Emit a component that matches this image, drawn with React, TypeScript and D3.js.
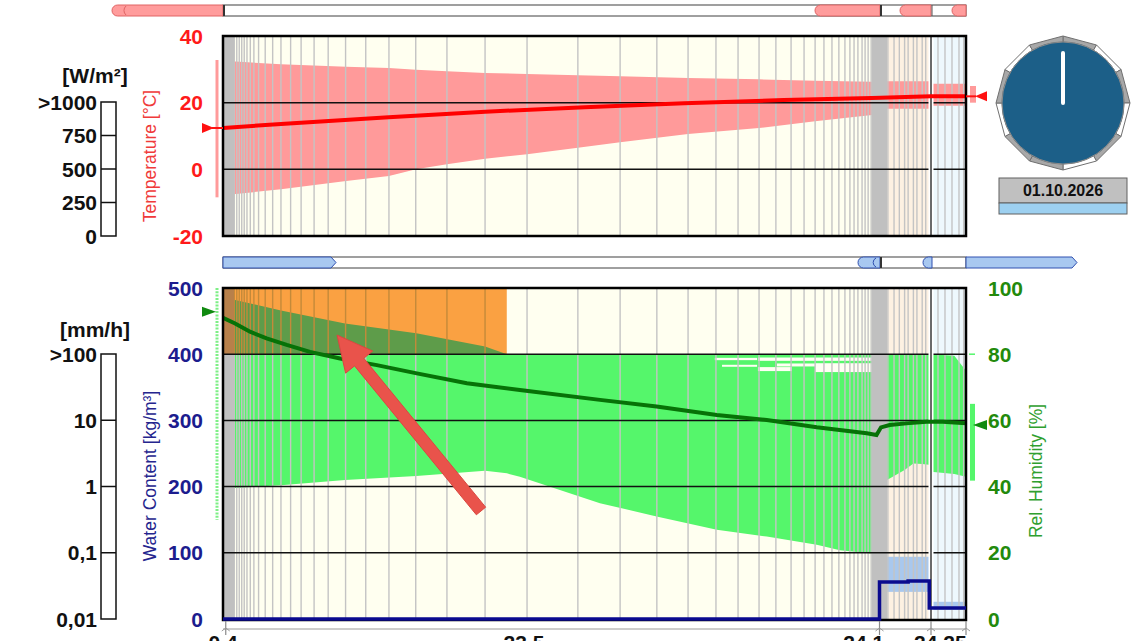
import React from "react";
import * as d3 from "d3";

// ---------------- data ----------------
// construction cross-section (cm) and layer kinds
const layerBounds = [0, 0.4, 23.5, 23.6, 24.1, 24.25];
const layerKinds = ["grey", "cream", "grey", "beige", "ice"];
// numerical mesh element boundaries (cm)
const meshLines = [
  0.41, 0.5, 0.59, 0.68, 0.77, 0.87, 0.99, 1.12, 1.29, 1.53, 1.8, 2.1, 2.45, 2.83, 3.3, 3.81, 4.44, 5.17,
  6.01, 6.98, 8.11, 9.49, 11.01, 12.85, 14.38, 15.71, 16.84, 17.85, 18.65, 19.41, 20.02, 20.57, 21.04,
  21.44, 21.76, 22.05, 22.3, 22.52, 22.7, 22.85, 22.99, 23.14, 23.25, 23.36, 23.47,
  23.61, 23.68, 23.74, 23.8, 23.84, 23.9, 23.94, 24.0, 24.04,
  24.13, 24.16, 24.19, 24.22, 24.24,
];

// temperature envelope (°C)
const tempBandPos = [0, 2.1, 4.46, 6.01, 6.99, 8.11, 9.49, 11.01, 12.85, 14.38, 16.84, 19.41, 21.44, 23.5, 23.6, 24.1, 24.1, 24.25];
const tempMax = [32.6, 31.5, 30.8, 30.4, 29.9, 29.4, 28.9, 28.6, 28.2, 27.9, 27.4, 27.0, 26.6, 26.3, 26.4, 26.4, 25.7, 25.7];
const tempMin = [-7.8, -6.0, -3.5, -2.0, 0.0, 1.5, 3.2, 4.5, 6.5, 8.1, 10.6, 12.4, 14.4, 16.3, 18.2, 18.2, 19.1, 19.1];
// current temperature profile (°C)
const tempMeanPos = [0, 2.1, 6.0, 9.5, 13.1, 16.7, 20.3, 23.5, 24.1, 24.25];
const tempMean = [12.4, 13.6, 15.6, 17.3, 18.6, 19.8, 20.8, 21.4, 21.9, 21.9];

// relative humidity envelope (%)
const rhBandPos = [0, 0.44, 2.1, 4.42, 7.0, 9.49, 10.28, 10.75, 13.65, 15.7, 17.88, 19.69, 21.5, 22.34, 23.5, 23.6, 23.8, 23.9, 24.0, 24.1, 24.1, 24.2, 24.25];
const rhMax = [96.6, 96.4, 93.2, 89.3, 86.3, 82.3, 80, 80, 80, 80, 80, 80, 80, 80, 80, 80, 80, 80, 80, 80, 80, 79.5, 75];
const rhMin = [39.5, 39.6, 40.4, 42.0, 43.2, 44.8, 44.0, 43.0, 35.0, 31.0, 27.0, 24.9, 22.4, 20.8, 19.8, 42.0, 45.0, 47.0, 46.8, 46.5, 44.5, 43.8, 43.0];
// gaps inside the RH envelope
const rhGapX0 = [17.81, 18.07, 19.37, 19.37, 20.06, 21.44];
const rhGapX1 = [19.34, 19.34, 23.5, 20.6, 23.5, 23.5];
const rhGapLo = [78.2, 76.2, 78.0, 74.9, 76.3, 74.6];
const rhGapHi = [78.9, 76.8, 79.0, 76.1, 77.2, 77.2];
// current RH profile (%)
const rhMeanPos = [0, 0.44, 0.98, 1.58, 2.31, 3.15, 4.24, 5.57, 7.02, 8.83, 10.75, 13.65, 15.7, 17.88, 19.69, 21.5, 23.31, 23.53, 23.56, 23.63, 23.82, 24.05, 24.15, 24.25];
const rhMean = [91.0, 89.3, 86.8, 84.8, 82.8, 80.7, 78.7, 76.7, 74.2, 71.2, 69.2, 66.2, 64.2, 61.6, 60.1, 57.9, 56.1, 55.6, 57.9, 58.6, 59.1, 59.6, 59.6, 59.1];

// water content envelope and profile (kg/m³)
const wcBandX0 = [23.6, 24.1];
const wcBandX1 = [24.1, 24.25];
const wcBandLo = [41, 13.6];
const wcBandHi = [94, 26];
const wcPos = [0, 23.55, 23.84, 24.08, 24.25];
const wcMean = [0, 56, 57.5, 16.6, 16.6];

// zone where RH exceeds 80 %
const highlightX = [0, 10.28];
const highlightRH = [80, 100];

// axes
const tempTicks = [40, 20, 0, -20];
const wcTicks = [500, 400, 300, 200, 100, 0];
const rhTicks = [100, 80, 60, 40, 20, 0];
const radTicks = [1000, 750, 500, 250, 0];
const radLabels = [">1000", "750", "500", "250", "0"];
const rainTicks = [100, 10, 1, 0.1, 0.01];
const rainLabels = [">100", "10", "1", "0,1", "0,01"];
const xAxisTicks = [0.1, 23.55, 24.1, 24.25];
const xAxisLabelPos = [0, 10.9, 23.2, 24.14];
const xAxisLabels = ["0,4", "23,5", "24,1", "24,25"];

// boundary indicators
const tempLeft = { lo: -8.4, hi: 32.8, cur: 12.4 };
const tempRight = { lo: 20, hi: 25, cur: 21.9 };
const rhLeft = { lo: 30, hi: 100, cur: 92.8 };
const rhRight = { lo: 41.8, hi: 65, cur: 58.6, mark: 80 };

const dateLabel = "01.10.2026";
const dialSegments = [1, 0, 1, 0, 1, 0, 1, 1, 0, 1, 0, 1];

// ---------------- layout / style ----------------
const W = 1137;
const H = 641;
const X_RANGE = [223, 234, 872, 887, 931, 966];
const TOP = { y0: 36, y1: 236 };
const BOT = { y0: 288, y1: 619 };
const FONT = "'Liberation Sans', Arial, sans-serif";
const layerFill: Record<string, string> = { grey: "#C0C0C0", cream: "#FFFFF0", beige: "#FDF1E2", ice: "#EEF8FD" };

export default function App() {
  const x = d3.scaleLinear().domain(layerBounds).range(X_RANGE);
  const yT = d3.scaleLinear().domain([-20, 40]).range([TOP.y1, TOP.y0]);
  const yWC = d3.scaleLinear().domain([0, 500]).range([BOT.y1, BOT.y0]);
  const yRH = d3.scaleLinear().domain([0, 100]).range([BOT.y1, BOT.y0]);
  const yRad = d3.scaleLinear().domain([0, 1000]).range([236, 102]);
  const yRain = d3.scaleLog().domain([0.01, 100]).range([619, 354]);

  const xL = x(layerBounds[0]);
  const xR = x(layerBounds[layerBounds.length - 1]);

  const tempArea = d3
    .area<number>()
    .x((d) => x(d))
    .y0((_, i) => yT(tempMin[i]))
    .y1((_, i) => yT(tempMax[i]))(tempBandPos) as string;
  const tempLine = d3
    .line<number>()
    .x((d) => x(d))
    .y((_, i) => yT(tempMean[i]))(tempMeanPos) as string;
  const rhArea = d3
    .area<number>()
    .x((d) => x(d))
    .y0((_, i) => yRH(rhMin[i]))
    .y1((_, i) => yRH(rhMax[i]))(rhBandPos) as string;
  const rhLine = d3
    .line<number>()
    .x((d) => x(d))
    .y((_, i) => yRH(rhMean[i]))(rhMeanPos) as string;
  const wcLine = d3
    .line<number>()
    .x((d) => x(d))
    .y((_, i) => yWC(wcMean[i]))
    .curve(d3.curveStepAfter)(wcPos) as string;

  const layers = layerKinds.map((k, i) => ({ kind: k, x0: layerBounds[i], x1: layerBounds[i + 1] }));

  const plotBg = (y0: number, y1: number, key: string) =>
    layers
      .filter((l) => l.kind !== "grey")
      .map((l, i) => (
        <rect key={key + i} x={x(l.x0)} y={y0} width={x(l.x1) - x(l.x0)} height={y1 - y0} fill={layerFill[l.kind]} />
      ));
  const greyZones = (y0: number, y1: number, key: string, fill = layerFill.grey) =>
    layers
      .filter((l) => l.kind === "grey")
      .map((l, i) => (
        <rect key={key + i} x={x(l.x0)} y={y0} width={x(l.x1) - x(l.x0)} height={y1 - y0} fill={fill} />
      ));
  const mesh = (y0: number, y1: number, key: string, stroke = "#C4C4C4") =>
    meshLines.map((m, i) => (
      <line key={key + i} x1={x(m)} x2={x(m)} y1={y0} y2={y1} stroke={stroke} strokeWidth={1.4} />
    ));
  const splitLine = (y0: number, y1: number) => {
    const xs = x(layerBounds[4]);
    return (
      <g>
        <rect x={xs - 2.5} y={y0} width={5} height={y1 - y0} fill="#FFFFFF" />
        <line x1={xs} x2={xs} y1={y0} y2={y1} stroke="#6A6A6A" strokeWidth={2} />
      </g>
    );
  };

  // decorative bars
  const pillL = (x0: number, x1: number, y0: number, y1: number) => {
    const r = (y1 - y0) / 2;
    return `M${x1},${y0}L${x0 + r},${y0}A${r},${r} 0 0 0 ${x0 + r},${y1}L${x1},${y1}Z`;
  };
  const arrowR = (x0: number, x1: number, y0: number, y1: number) =>
    `M${x0},${y0}L${x1 - 5},${y0}L${x1},${(y0 + y1) / 2}L${x1 - 5},${y1}L${x0},${y1}Z`;

  // annotation arrow
  const tail = [481, 511];
  const tip = [337, 335];
  const dx = tip[0] - tail[0];
  const dy = tip[1] - tail[1];
  const len = Math.hypot(dx, dy);
  const u = [dx / len, dy / len];
  const n = [-u[1], u[0]];
  const hl = 35, hw = 17.5, sw = 6;
  const base = [tip[0] - u[0] * hl, tip[1] - u[1] * hl];
  const arrowPts = [
    [tail[0] + n[0] * sw, tail[1] + n[1] * sw],
    [base[0] + n[0] * sw, base[1] + n[1] * sw],
    [base[0] + n[0] * hw, base[1] + n[1] * hw],
    tip,
    [base[0] - n[0] * hw, base[1] - n[1] * hw],
    [base[0] - n[0] * sw, base[1] - n[1] * sw],
    [tail[0] - n[0] * sw, tail[1] - n[1] * sw],
  ];

  // dial
  const cx = 1063, cy = 103, rIn = 61, rOut = 67;
  const vert = (k: number, r: number) => {
    const a = (k * Math.PI) / 6;
    return [cx + r * Math.sin(a), cy - r * Math.cos(a)];
  };

  const tickFont = { fontFamily: FONT, fontWeight: 700, fontSize: 21 } as const;
  const hx0 = x(highlightX[0]);
  const hx1 = x(highlightX[1]);
  const hy0 = yRH(highlightRH[1]);
  const hy1 = yRH(highlightRH[0]);

  return (
    <svg width={W} height={H} style={{ position: "absolute", left: 0, top: 0, background: "#fff" }}>
      <defs>
        <clipPath id="clipTop">
          <rect x={xL} y={TOP.y0} width={xR - xL} height={TOP.y1 - TOP.y0} />
        </clipPath>
        <clipPath id="clipBot">
          <rect x={xL} y={BOT.y0} width={xR - xL} height={BOT.y1 - BOT.y0} />
        </clipPath>
        <clipPath id="clipHi">
          <rect x={hx0} y={hy0} width={hx1 - hx0} height={hy1 - hy0} />
        </clipPath>
      </defs>

      {/* ---------- top bar ---------- */}
      <rect x={xL} y={5} width={xR - xL} height={11} fill="#fff" stroke="#404040" strokeWidth={1} />
      <path d={pillL(112, xL, 5, 16)} fill="#FF9C9C" stroke="#E06565" strokeWidth={1} />
      <path d={`M126,6A6,6 0 0 0 126,15`} fill="none" stroke="#E06565" strokeWidth={1} />
      <line x1={xL + 1} x2={xL + 1} y1={5} y2={16} stroke="#333" strokeWidth={2} />
      <path d={pillL(815, 880, 5, 16)} fill="#FF9C9C" stroke="#E06565" strokeWidth={1} />
      <line x1={881} x2={881} y1={5} y2={16} stroke="#333" strokeWidth={2} />
      <path d={pillL(900, 931, 5, 16)} fill="#FF9C9C" stroke="#E06565" strokeWidth={1} />
      <line x1={932} x2={932} y1={5} y2={16} stroke="#555" strokeWidth={1} />
      <path d={pillL(952, xR, 5, 16)} fill="#FF9C9C" stroke="#E06565" strokeWidth={1} />

      {/* ---------- middle bar ---------- */}
      <rect x={xL} y={257} width={xR - xL} height={11} fill="#fff" stroke="#404040" strokeWidth={1} />
      <path d={arrowR(xL, 336, 257, 268)} fill="#A8C8F0" stroke="#3050B0" strokeWidth={1} />
      <path d={pillL(858, 880, 257, 268)} fill="#A8C8F0" stroke="#3050B0" strokeWidth={1} />
      <path d={`M876,258A5,5 0 0 0 876,267`} fill="none" stroke="#3050B0" strokeWidth={1} />
      <line x1={881} x2={881} y1={257} y2={268} stroke="#333" strokeWidth={2} />
      <path d={pillL(923, 932, 257, 268)} fill="#A8C8F0" stroke="#3050B0" strokeWidth={1} />
      <path d={arrowR(xR, 1077, 257, 268)} fill="#A8C8F0" stroke="#3050B0" strokeWidth={1} />

      {/* ---------- top plot ---------- */}
      <g clipPath="url(#clipTop)">
        {plotBg(TOP.y0, TOP.y1, "bgT")}
        <path d={tempArea} fill="#FF9A9A" />
        {mesh(TOP.y0, TOP.y1, "mT")}
        {greyZones(TOP.y0, TOP.y1, "gT")}
        {tempTicks.slice(1, 3).map((t) => (
          <line key={"hT" + t} x1={xL} x2={xR} y1={yT(t)} y2={yT(t)} stroke="#111" strokeWidth={1.5} />
        ))}
        {splitLine(TOP.y0, TOP.y1)}
        <path d={tempLine} fill="none" stroke="#FF0000" strokeWidth={4} />
      </g>
      <rect x={xL} y={TOP.y0} width={xR - xL} height={TOP.y1 - TOP.y0} fill="none" stroke="#000" strokeWidth={2.5} />

      {/* ---------- bottom plot ---------- */}
      <g clipPath="url(#clipBot)">
        {plotBg(BOT.y0, BOT.y1, "bgB")}
        <path d={rhArea} fill="#55F66B" />
        {rhGapX0.map((g, i) => (
          <rect
            key={"gap" + i}
            x={x(g)}
            y={yRH(rhGapHi[i])}
            width={x(rhGapX1[i]) - x(g)}
            height={yRH(rhGapLo[i]) - yRH(rhGapHi[i])}
            fill="#FFFFF4"
          />
        ))}
        {wcBandX0.map((b, i) => (
          <rect
            key={"wcb" + i}
            x={x(b)}
            y={yWC(wcBandHi[i])}
            width={x(wcBandX1[i]) - x(b)}
            height={yWC(wcBandLo[i]) - yWC(wcBandHi[i])}
            fill="#A9C8EE"
          />
        ))}
        {mesh(BOT.y0, BOT.y1, "mB")}
        {greyZones(BOT.y0, BOT.y1, "gB")}
        {/* highlighted zone (RH > 80 %) */}
        <g clipPath="url(#clipHi)">
          <rect x={hx0} y={hy0} width={hx1 - hx0} height={hy1 - hy0} fill="#FAA142" />
          <path d={rhArea} fill="#5E9C4A" />
          {mesh(BOT.y0, BOT.y1, "mH", "#C48A3A")}
          {greyZones(BOT.y0, BOT.y1, "gH", "#B8804A")}
        </g>
        {wcTicks.slice(1, 5).map((t) => (
          <line key={"hB" + t} x1={xL} x2={xR} y1={yWC(t)} y2={yWC(t)} stroke="#111" strokeWidth={1.5} />
        ))}
        {splitLine(BOT.y0, BOT.y1)}
        <path d={rhLine} fill="none" stroke="#077207" strokeWidth={4} />
      </g>
      <rect x={xL} y={BOT.y0} width={xR - xL} height={BOT.y1 - BOT.y0 + 1} fill="none" stroke="#000" strokeWidth={2.5} />
      <path d={wcLine} fill="none" stroke="#0A0A8E" strokeWidth={3.5} />

      {/* ---------- x axis ---------- */}
      <line x1={xL} x2={xR} y1={629} y2={629} stroke="#9A9A9A" strokeWidth={1} />
      {xAxisTicks.map((t, i) => (
        <g key={"xt" + i}>
          <line x1={x(t)} x2={x(t)} y1={621} y2={635} stroke="#8A8A8A" strokeWidth={1.2} />
          <path d={`M${x(t) - 4},${631}L${x(t)},${628}L${x(t) + 4},${631}`} fill="none" stroke="#9A9A9A" strokeWidth={1} />
        </g>
      ))}
      {xAxisLabels.map((l, i) => (
        <text key={"xl" + i} x={x(xAxisLabelPos[i])} y={650} textAnchor="middle" {...tickFont} fill="#111">
          {l}
        </text>
      ))}

      {/* ---------- temperature axis ---------- */}
      {tempTicks.map((t) => (
        <text key={"tt" + t} x={203} y={yT(t)} dy="0.36em" textAnchor="end" {...tickFont} fill="#FF1A1A">
          {t}
        </text>
      ))}
      <text
        transform={`translate(156,${(TOP.y0 + TOP.y1) / 2 + 20}) rotate(-90)`}
        textAnchor="middle"
        fontFamily={FONT}
        fontSize={17.5}
        fill="#F03A3A"
      >
        Temperature [°C]
      </text>
      <line x1={217} x2={217} y1={yT(tempLeft.hi)} y2={yT(tempLeft.lo)} stroke="#FF9A9A" strokeWidth={3} />
      <path
        d={`M202,${yT(tempLeft.cur) - 5}L214,${yT(tempLeft.cur)}L202,${yT(tempLeft.cur) + 5}Z`}
        fill="#FF1010"
      />
      <line x1={212} x2={xL} y1={yT(tempLeft.cur)} y2={yT(tempLeft.cur)} stroke="#FF1010" strokeWidth={2} />
      <rect x={970} y={yT(tempRight.hi)} width={6} height={yT(tempRight.lo) - yT(tempRight.hi)} fill="#FF9A9A" />
      <path
        d={`M975,${yT(tempRight.cur)}L987,${yT(tempRight.cur) - 5}L987,${yT(tempRight.cur) + 5}Z`}
        fill="#FF1010"
      />
      <line x1={966} x2={976} y1={yT(tempRight.cur)} y2={yT(tempRight.cur)} stroke="#FF1010" strokeWidth={2} />

      {/* ---------- water content / RH axes ---------- */}
      {wcTicks.map((t) => (
        <text key={"wt" + t} x={203} y={yWC(t)} dy="0.36em" textAnchor="end" {...tickFont} fill="#1C1C8E">
          {t}
        </text>
      ))}
      <text
        transform={`translate(156,${476}) rotate(-90)`}
        textAnchor="middle"
        fontFamily={FONT}
        fontSize={17.5}
        fill="#25258E"
      >
        Water Content [kg/m³]
      </text>
      {rhTicks.map((t) => (
        <text key={"rt" + t} x={988} y={yRH(t)} dy="0.36em" textAnchor="start" {...tickFont} fill="#238A0C">
          {t}
        </text>
      ))}
      <text
        transform={`translate(1042,${471}) rotate(-90)`}
        textAnchor="middle"
        fontFamily={FONT}
        fontSize={17.5}
        fill="#2FA02F"
      >
        Rel. Humidity [%]
      </text>
      <line
        x1={217}
        x2={217}
        y1={yRH(rhLeft.hi)}
        y2={yRH(rhLeft.lo)}
        stroke="#7EEF86"
        strokeWidth={3}
        strokeDasharray="2,1.3"
      />
      <path d={`M202,${yRH(rhLeft.cur) - 5}L216,${yRH(rhLeft.cur)}L202,${yRH(rhLeft.cur) + 5}Z`} fill="#108A10" />
      <line x1={969} x2={975} y1={yRH(rhRight.mark)} y2={yRH(rhRight.mark)} stroke="#55F66B" strokeWidth={1.5} />
      <rect x={970} y={yRH(rhRight.hi)} width={5} height={yRH(rhRight.lo) - yRH(rhRight.hi)} fill="#55F66B" />
      <path
        d={`M973,${yRH(rhRight.cur)}L987,${yRH(rhRight.cur) - 5}L987,${yRH(rhRight.cur) + 5}Z`}
        fill="#108A10"
      />

      {/* ---------- radiation legend ---------- */}
      <text x={95} y={83} textAnchor="middle" {...tickFont} fill="#111">
        [W/m²]
      </text>
      <rect x={101} y={yRad(1000)} width={15} height={yRad(0) - yRad(1000)} fill="#fff" stroke="#111" strokeWidth={1.5} />
      {radTicks.slice(1, 4).map((t) => (
        <line key={"rd" + t} x1={101} x2={116} y1={yRad(t)} y2={yRad(t)} stroke="#111" strokeWidth={1.5} />
      ))}
      {radTicks.map((t, i) => (
        <text key={"rl" + t} x={97} y={yRad(t)} dy="0.36em" textAnchor="end" {...tickFont} fill="#111">
          {radLabels[i]}
        </text>
      ))}

      {/* ---------- rain legend ---------- */}
      <text x={95} y={337} textAnchor="middle" {...tickFont} fill="#111">
        [mm/h]
      </text>
      <rect x={101} y={yRain(100)} width={15} height={yRain(0.01) - yRain(100)} fill="#fff" stroke="#111" strokeWidth={1.5} />
      {rainTicks.slice(1, 4).map((t) => (
        <line key={"rn" + t} x1={101} x2={116} y1={yRain(t)} y2={yRain(t)} stroke="#111" strokeWidth={1.5} />
      ))}
      {rainTicks.map((t, i) => (
        <text key={"rnl" + t} x={97} y={yRain(t)} dy="0.36em" textAnchor="end" {...tickFont} fill="#111">
          {rainLabels[i]}
        </text>
      ))}

      {/* ---------- dial ---------- */}
      {dialSegments.map((s, k) => {
        const a = vert(k, rOut);
        const b = vert(k + 1, rOut);
        const c = vert(k + 1, rIn);
        const d = vert(k, rIn);
        return (
          <path
            key={"ds" + k}
            d={`M${a[0]},${a[1]}L${b[0]},${b[1]}L${c[0]},${c[1]}A${rIn},${rIn} 0 0 0 ${d[0]},${d[1]}Z`}
            fill={s ? "#A8A8A8" : "#FFFFFF"}
            stroke="#707070"
            strokeWidth={1}
          />
        );
      })}
      <circle cx={cx} cy={cy} r={rIn} fill="#1C5F88" stroke="#8A8A8A" strokeWidth={1} />
      <line x1={cx} x2={cx} y1={cy} y2={cy - 50} stroke="#FFFFFF" strokeWidth={4} strokeLinecap="round" />
      <rect x={999} y={178} width={128} height={25} fill="#C0C0C0" stroke="#606060" strokeWidth={1} />
      <rect x={999} y={203} width={128} height={11} fill="#9DD0F0" stroke="#606060" strokeWidth={1} />
      <text x={cx} y={196} textAnchor="middle" fontFamily={FONT} fontWeight={700} fontSize={16} fill="#111">
        {dateLabel}
      </text>

      {/* ---------- annotation arrow ---------- */}
      <polygon points={arrowPts.map((p) => p.join(",")).join(" ")} fill="#E9534B" stroke="#D94840" strokeWidth={1} />
    </svg>
  );
}
